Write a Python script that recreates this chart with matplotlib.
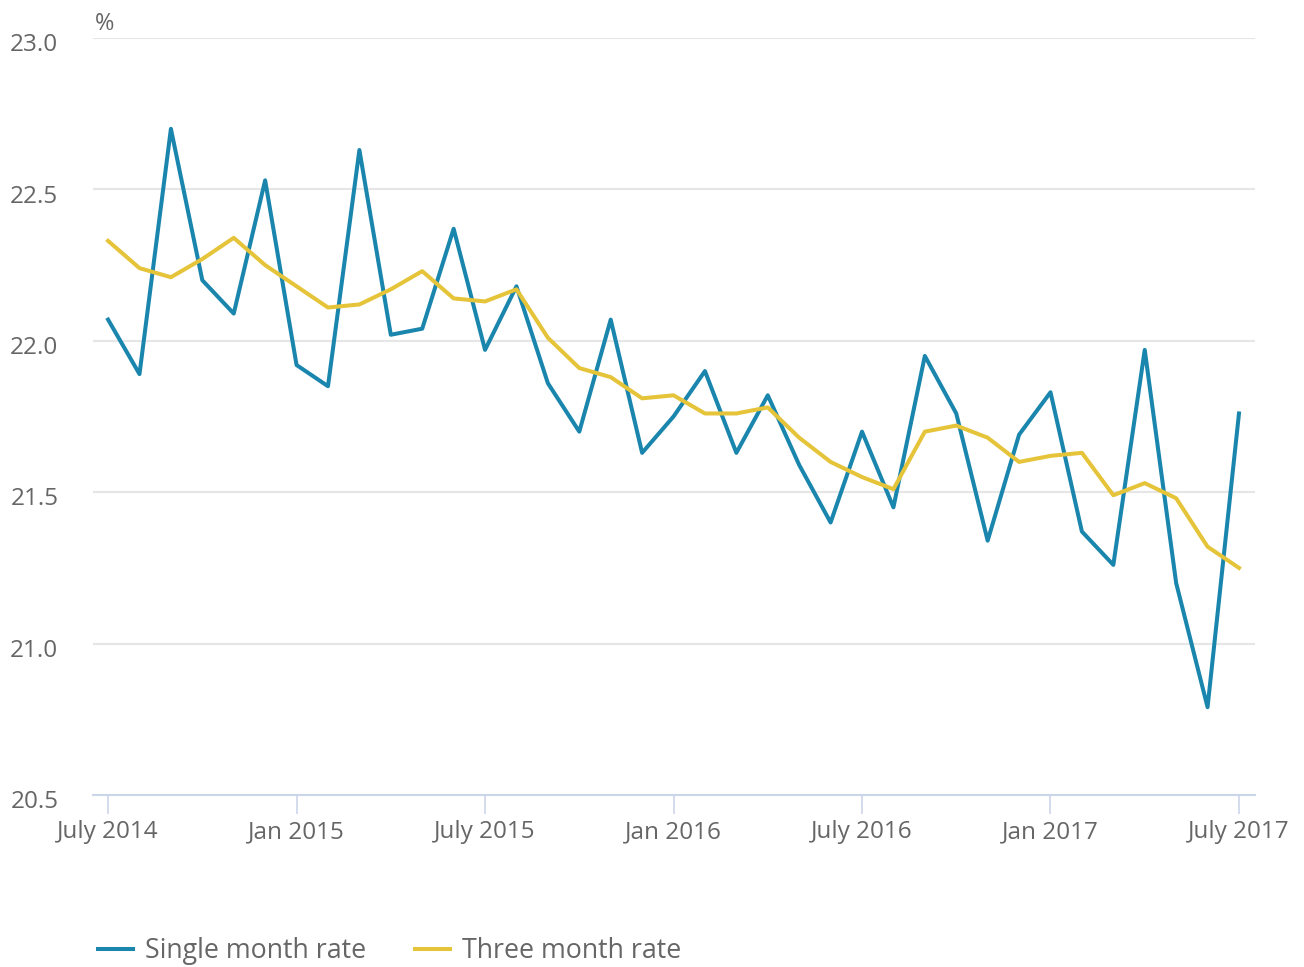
import numpy as np
import matplotlib
matplotlib.use('Agg')
import matplotlib.pyplot as plt
from matplotlib.transforms import ScaledTranslation

plt.rcParams['font.family'] = ['Open Sans', 'DejaVu Sans']

# 月 (July 2014 - July 2017)
months = ['Jul 2014', 'Aug 2014', 'Sep 2014', 'Oct 2014', 'Nov 2014', 'Dec 2014',
          'Jan 2015', 'Feb 2015', 'Mar 2015', 'Apr 2015', 'May 2015', 'Jun 2015',
          'Jul 2015', 'Aug 2015', 'Sep 2015', 'Oct 2015', 'Nov 2015', 'Dec 2015',
          'Jan 2016', 'Feb 2016', 'Mar 2016', 'Apr 2016', 'May 2016', 'Jun 2016',
          'Jul 2016', 'Aug 2016', 'Sep 2016', 'Oct 2016', 'Nov 2016', 'Dec 2016',
          'Jan 2017', 'Feb 2017', 'Mar 2017', 'Apr 2017', 'May 2017', 'Jun 2017',
          'Jul 2017']

single_month = [22.07, 21.89, 22.70, 22.20, 22.09, 22.53,
                21.92, 21.85, 22.63, 22.02, 22.04, 22.37,
                21.97, 22.18, 21.86, 21.70, 22.07, 21.63,
                21.75, 21.90, 21.63, 21.82, 21.59, 21.40,
                21.70, 21.45, 21.95, 21.76, 21.34, 21.69,
                21.83, 21.37, 21.26, 21.97, 21.20, 20.79,
                21.76]

three_month = [22.33, 22.24, 22.21, 22.27, 22.34, 22.25,
               22.18, 22.11, 22.12, 22.17, 22.23, 22.14,
               22.13, 22.17, 22.01, 21.91, 21.88, 21.81,
               21.82, 21.76, 21.76, 21.78, 21.68, 21.60,
               21.55, 21.51, 21.70, 21.72, 21.68, 21.60,
               21.62, 21.63, 21.49, 21.53, 21.48, 21.32,
               21.25]

tick_pos = [0, 6, 12, 18, 24, 30, 36]
tick_labels = ['July 2014', 'Jan 2015', 'July 2015', 'Jan 2016',
               'July 2016', 'Jan 2017', 'July 2017']
y_ticks = [20.5, 21.0, 21.5, 22.0, 22.5, 23.0]

blue = '#1a86ad'
yellow = '#e5c43a'
grey_text = '#666666'

fig = plt.figure(figsize=(13.04, 9.67), dpi=100)
ax = fig.add_axes([93/1304, 1-795/967, (1255-93)/1304, (795-38)/967])

x = np.arange(len(months))
ax.plot(x, single_month, color=blue, lw=2.9, label='Single month rate')
ax.plot(x, three_month, color=yellow, lw=2.9, label='Three month rate')

ax.set_xlim(-0.48, 36.51)
ax.set_ylim(20.5, 23.0)
ax.set_yticks(y_ticks)
ax.set_yticklabels([f'{v:.1f}' for v in y_ticks])
ax.set_xticks(tick_pos)
ax.set_xticklabels(tick_labels)

# グリッドと軸
ax.grid(axis='y', color='#e6e6e6', lw=1.5, zorder=0)
ax.set_axisbelow(True)
for s in ['top', 'right', 'left']:
    ax.spines[s].set_visible(False)
ax.spines['bottom'].set_color('#ccd6eb')
ax.spines['bottom'].set_linewidth(1.5)
ax.tick_params(axis='x', length=14, width=1.2, color='#ccd6eb', pad=4,
               labelsize=17.5, labelcolor=grey_text)
ax.tick_params(axis='y', length=0, pad=25, labelsize=17.5, labelcolor=grey_text)

# y軸ラベルを少し下にずらす
for lbl in ax.get_yticklabels():
    lbl.set_transform(lbl.get_transform() + ScaledTranslation(0, -3/72, fig.dpi_scale_trans))

ax.text(0.0015, 1.002, '%', transform=ax.transAxes, fontsize=17, color=grey_text,
        ha='left', va='bottom')

fig.legend(loc='lower left', bbox_to_anchor=(85/1304, -0.012), ncol=2, frameon=False,
           fontsize=19.3, handlelength=1.3, handletextpad=0.45, columnspacing=1.8,
           borderpad=0, labelcolor=grey_text)

fig.savefig('out.png', dpi=100)
